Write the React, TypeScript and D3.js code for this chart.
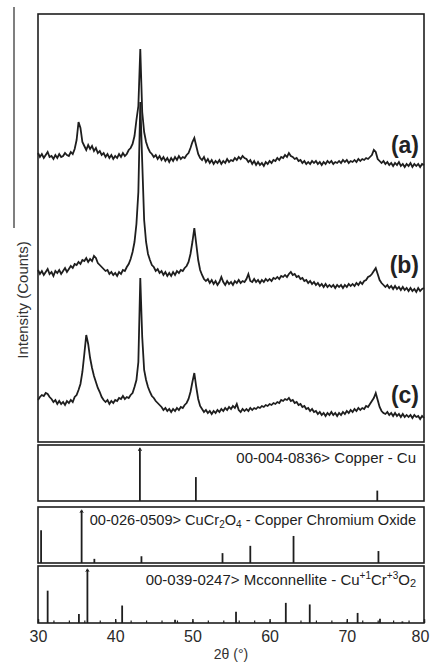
import React, { useRef, useEffect } from 'react';
import * as d3 from 'd3';

// 2θ grid of the scans, 0.25° steps from 30° to 80°
const twoTheta = d3.range(201).map(i => 30 + i * 0.25);

// scan intensities (stacked counts)
const patternA = [
  289, 285, 288, 284, 287, 290, 285, 286, 283, 287, 284, 288, 285, 286, 289, 287,
  286, 290, 288, 293,
  302, 320, 314, 300,
  296, 292, 297, 293,
  296, 291, 294, 289,
  291, 287, 289, 285,
  288, 284, 287, 283,
  286, 284, 288, 285,
  289, 286, 288, 292,
  294, 298, 306, 322,
  336, 393, 330, 310,
  300, 294, 290, 288,
  285, 287, 283, 286,
  282, 285, 281, 284,
  280, 284, 281, 285,
  282, 286, 283, 285,
  284, 287, 289, 294,
  300, 304, 296, 288,
  284, 282, 285, 280,
  283, 279, 282, 278,
  281, 279, 282, 278,
  281, 279, 283, 280,
  282, 281, 284, 282,
  285, 283, 286, 284,
  283, 280, 282, 278,
  281, 277, 280, 277,
  279, 276, 280, 278,
  281, 279, 282, 281,
  284, 282, 285, 284,
  287, 285, 289, 286,
  285, 283, 284, 281,
  282, 279, 281, 278,
  280, 278, 281, 279,
  281, 278, 280, 277,
  280, 278, 281, 279,
  281, 278, 280, 279,
  281, 279, 282, 280,
  282, 279, 281, 280,
  282, 280, 283, 281,
  283, 282, 284, 283,
  285, 287, 292, 290,
  283, 281, 279, 281,
  278, 280, 277, 279,
  276, 279, 277, 280,
  276, 278, 275, 278,
  276, 279, 275, 278,
  276, 278, 275, 278,
  277,
];

const patternB = [
  172, 168, 171, 167, 170, 173, 168, 170, 166, 171, 169, 172, 168, 171, 174, 170,
  173, 176, 174, 178,
  177, 180, 178, 182,
  181, 184, 180, 183,
  181, 186, 184, 179,
  177, 175, 173, 171,
  172, 168, 170, 167,
  169, 166, 170, 168,
  172, 171, 175, 178,
  183, 190, 200, 218,
  250, 340, 280, 222,
  200, 188, 182, 177,
  175, 171, 173, 169,
  171, 167, 170, 166,
  169, 166, 170, 167,
  171, 169, 172, 171,
  174, 176, 180, 188,
  200, 214, 198, 182,
  172, 167, 163, 161,
  163, 159, 162, 158,
  161, 157, 160, 165,
  160, 157, 161, 158,
  160, 157, 161, 159,
  162, 159, 161, 160,
  163, 168, 161, 160,
  163, 160, 162, 159,
  162, 160, 163, 161,
  163, 161, 164, 163,
  165, 163, 166, 165,
  167, 165, 168, 170,
  167, 168, 165, 166,
  163, 164, 161, 162,
  159, 161, 158, 160,
  157, 159, 156, 158,
  155, 158, 155, 157,
  155, 157, 154, 157,
  155, 157, 154, 157,
  155, 158, 156, 158,
  156, 159, 157, 160,
  158, 161, 162, 165,
  166, 168, 171, 174,
  168, 162, 159, 157,
  155, 157, 154, 156,
  153, 156, 153, 155,
  152, 155, 152, 154,
  151, 154, 151, 153,
  150, 154, 151, 153,
  154,
];

const patternC = [
  42, 45, 47, 46,
  49, 48, 45, 43,
  40, 42, 38, 41,
  38, 40, 37, 41,
  39, 42, 40, 45,
  47, 52, 58, 70,
  88, 107, 98, 84,
  74, 66, 60, 54,
  50, 45, 42, 40,
  42, 38, 41, 39,
  42, 41, 44, 43,
  46, 43, 45, 44,
  47, 49, 55, 62,
  80, 164, 105, 72,
  62, 55, 50, 46,
  44, 41, 39, 37,
  35, 32, 34, 31,
  33, 30, 33, 31,
  34, 32, 35, 34,
  37, 39, 43, 50,
  60, 69, 55, 43,
  36, 33, 30, 32,
  29, 31, 28, 31,
  29, 32, 30, 33,
  31, 34, 32, 35,
  33, 36, 34, 38,
  32, 30, 33, 31,
  33, 31, 34, 32,
  34, 33, 35, 34,
  36, 35, 37, 36,
  38, 37, 39, 38,
  40, 39, 42, 41,
  43, 42, 44, 41,
  42, 39, 40, 37,
  38, 35, 36, 33,
  34, 31, 33, 30,
  31, 28, 30, 27,
  29, 26, 29, 27,
  30, 27, 29, 26,
  29, 27, 30, 28,
  31, 29, 32, 30,
  33, 31, 34, 32,
  34, 33, 36, 35,
  38, 41, 44, 49,
  42, 35, 31, 29,
  28, 30, 27, 29,
  26, 29, 26, 28,
  25, 28, 25, 27,
  25, 27, 24, 27,
  25, 26, 23, 26,
  24,
];

const seriesLabels = ['(a)', '(b)', '(c)'];
const seriesLabelY = [145, 265, 395];

// reference cards: peak positions (2θ) and relative intensities (%)
const cuPos = [43.2, 50.45, 73.95];
const cuInt = [100, 46, 20];
const cucrPos = [30.4, 35.65, 37.3, 43.4, 53.9, 57.5, 63.1, 74.1];
const cucrInt = [63, 100, 8, 13, 19, 33, 52, 23];
const mccPos = [31.25, 35.3, 36.4, 40.9, 47.75, 55.65, 62.1, 65.2, 71.4, 74.3, 77.2];
const mccInt = [61, 17, 100, 33, 6, 21, 38, 35, 19, 8, 3];

const majorTicks = [30, 40, 50, 60, 70, 80];
const minorTicks = d3.range(30, 81, 2);

const FONT = "'Liberation Sans', Arial, sans-serif";
const INK = '#1e1e1e';

const App: React.FC = () => {
  const axisRef = useRef<SVGGElement>(null);

  const x = d3.scaleLinear().domain([30, 80]).range([38, 424]);
  const yMain = d3.scaleLinear().domain([0, 428]).range([442, 14]);
  const line = d3.line<number>()
    .x((_, i) => x(twoTheta[i]))
    .y(d => yMain(d));

  const panels = [
    { top: 445, bottom: 501, pos: cuPos, int: cuInt },
    { top: 507, bottom: 563, pos: cucrPos, int: cucrInt },
    { top: 566, bottom: 623, pos: mccPos, int: mccInt },
  ];

  useEffect(() => {
    if (!axisRef.current) return;
    const g = d3.select(axisRef.current);
    g.selectAll('*').remove();

    const minor = g.append('g').call(
      d3.axisBottom(x).tickValues(minorTicks).tickSize(-2.5).tickFormat(() => '')
    );
    minor.select('.domain').remove();
    minor.selectAll('line').attr('stroke', INK).attr('stroke-width', 1.2);

    const major = g.append('g').call(
      d3.axisBottom(x).tickValues(majorTicks).tickSize(-4).tickPadding(8).tickFormat(d3.format('d'))
    );
    major.select('.domain').remove();
    major.selectAll('line').attr('stroke', INK).attr('stroke-width', 1.4);
    major.attr('font-family', FONT).attr('font-size', 16);
    major.selectAll('text').attr('fill', '#2a2a2a');
    // keep the last label inside the picture
    major.selectAll<SVGTextElement, number>('text').filter(d => d === 80).attr('dx', -4);
  }, []);

  return (
    <svg width={430} height={663} style={{ position: 'absolute', left: 0, top: 0, background: '#fff' }}>
      <line x1={14} x2={14} y1={7} y2={228} stroke="#555" strokeWidth={1.5} />

      <text transform="translate(28,300) rotate(-90)" textAnchor="middle"
        fontFamily={FONT} fontSize={15} fill="#333">Intensity (Counts)</text>

      {/* main scan panel */}
      {[patternA, patternB, patternC].map((p, k) => (
        <path key={k} d={line(p) || ''} fill="none" stroke={INK} strokeWidth={1.8} />
      ))}
      {seriesLabels.map((s, k) => (
        <text key={s} x={419} y={seriesLabelY[k] + 8} textAnchor="end"
          fontFamily={FONT} fontWeight="bold" fontSize={23} fill="#222">{s}</text>
      ))}
      <rect x={38} y={14} width={386} height={428} fill="none" stroke={INK} strokeWidth={1.6} />

      {/* reference cards */}
      {panels.map((pn, k) => {
        const y = d3.scaleLinear().domain([0, 100]).range([pn.bottom, pn.top + 4]);
        return (
          <g key={k}>
            {pn.pos.map((p, i) => (
              <g key={i}>
                <line x1={x(p)} x2={x(p)} y1={y(0)} y2={y(pn.int[i])} stroke={INK} strokeWidth={1.8} />
                {pn.int[i] === 100 && (
                  <path d={`M${x(p) - 1.6},${y(100) + 1.8} L${x(p)},${y(100) - 1.2} L${x(p) + 1.6},${y(100) + 1.8}`}
                    fill="none" stroke={INK} strokeWidth={1} />
                )}
              </g>
            ))}
            <rect x={38} y={pn.top} width={386} height={pn.bottom - pn.top} fill="none" stroke={INK} strokeWidth={1.6} />
          </g>
        );
      })}

      <g fontFamily={FONT} fontSize={15} fill="#222" textAnchor="end">
        <text x={416} y={463}>00-004-0836&gt; Copper - Cu</text>
        <text x={416} y={525} fontSize={14.6}>
          00-026-0509&gt; CuCr<tspan fontSize={10} dy={3}>2</tspan>
          <tspan dy={-3}>O</tspan><tspan fontSize={10} dy={3}>4</tspan>
          <tspan dy={-3}> - Copper Chromium Oxide</tspan>
        </text>
        <text x={416} y={585}>
          00-039-0247&gt; Mcconnellite - Cu<tspan fontSize={10} dy={-6}>+1</tspan>
          <tspan dy={6}>Cr</tspan><tspan fontSize={10} dy={-6}>+3</tspan>
          <tspan dy={6}>O</tspan><tspan fontSize={11} dy={2}>2</tspan>
        </text>
      </g>

      <g ref={axisRef} transform="translate(0,623)" />

      <text x={231} y={659} textAnchor="middle" fontFamily={FONT} fontSize={14} fill="#333">2θ (°)</text>
    </svg>
  );
};

export default App;
